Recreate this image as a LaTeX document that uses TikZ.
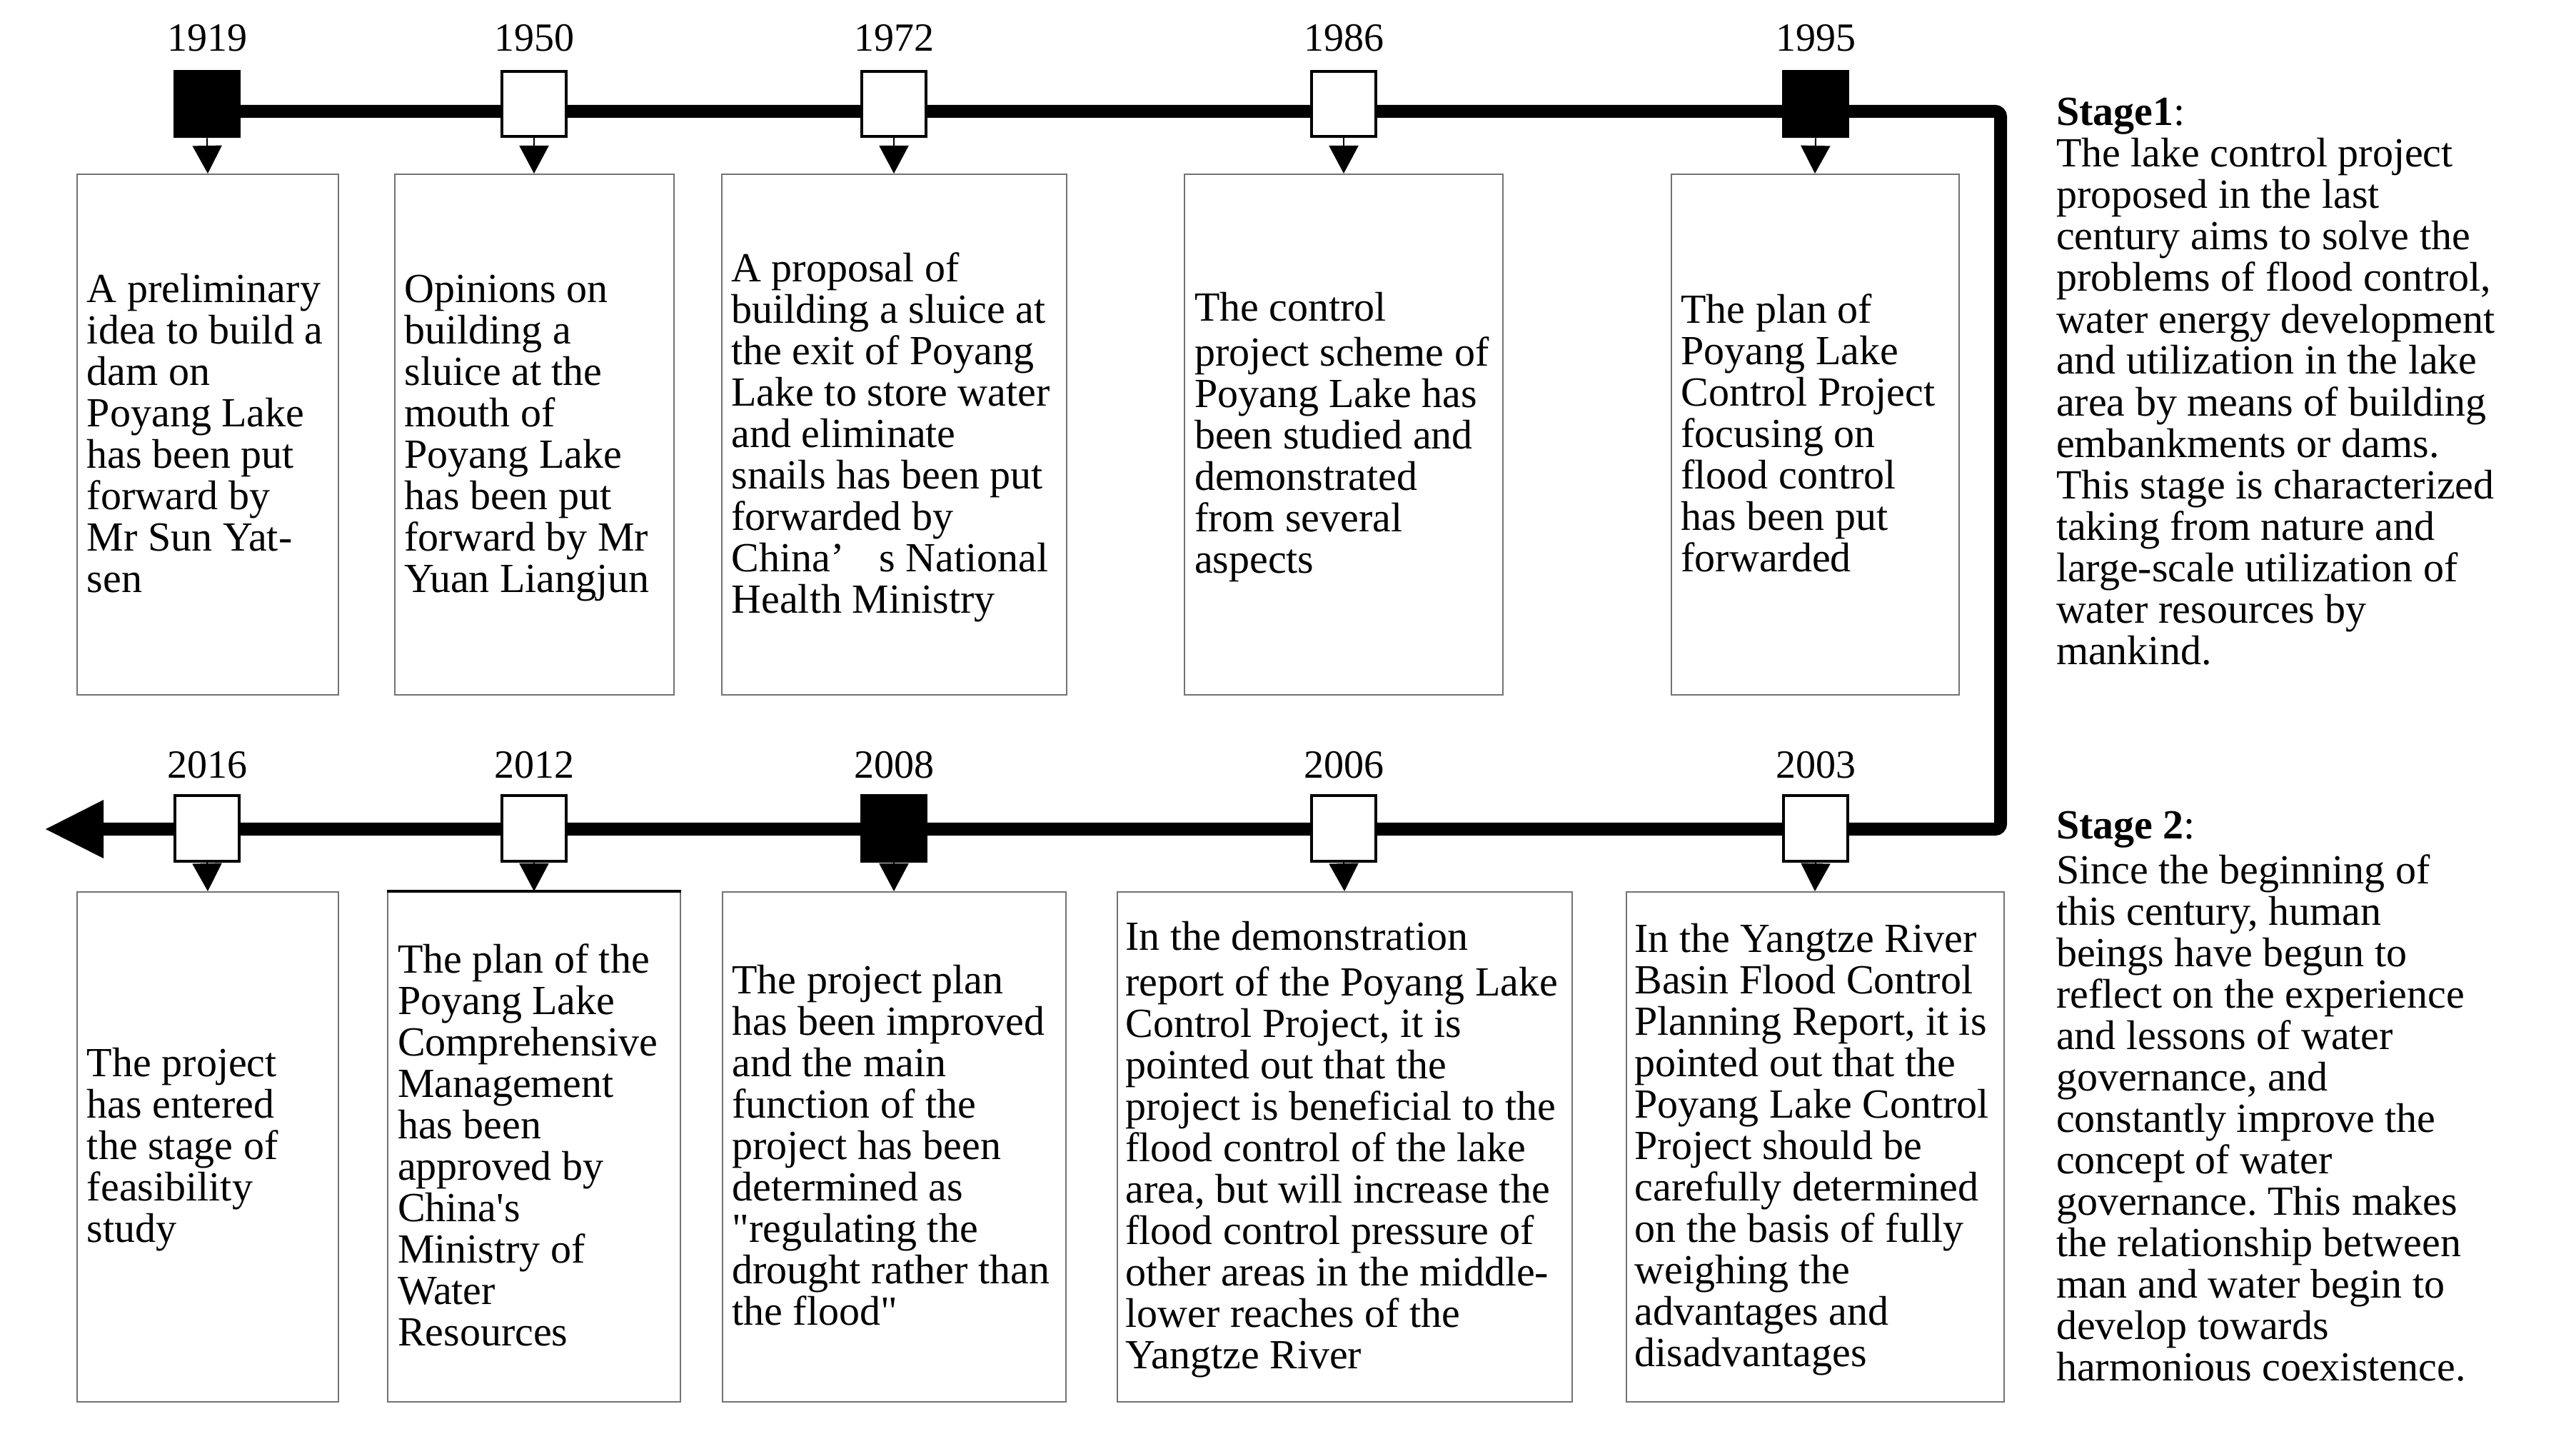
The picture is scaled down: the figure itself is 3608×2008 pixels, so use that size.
\documentclass[tikz,border=0pt]{standalone}
\usepackage{fontspec}
\setmainfont{Liberation Serif}
\usetikzlibrary{arrows.meta,backgrounds}
\frenchspacing
\tikzset{
  mk/.style={draw, line width=0.8pt, minimum width=18pt, minimum height=18.2pt, inner sep=0pt, fill=white},
  mkfull/.style={mk, fill=black},
  evbox/.style={draw=black!55, line width=0.4pt, inner sep=0pt, fill=none},
  topbox/.style={evbox, minimum height=145.8pt},
  botbox/.style={evbox, minimum height=142.8pt},
  etext/.style={inner sep=0pt, align=left, anchor=west, font=\fontsize{11.6}{11.6}\selectfont},
  year/.style={inner sep=0pt, anchor=base, font=\fontsize{11.2}{11.2}\selectfont},
  stage/.style={inner sep=0pt, align=left, anchor=north west, font=\fontsize{11.6}{11.6}\selectfont},
  sarrow/.style={line width=0.4pt, -{Triangle[width=8.2pt,length=7.8pt]}},
  tline/.style={line width=3.6pt, rounded corners=1.5pt}
}
\begin{document}
\frenchspacing
\begin{tikzpicture}[x=0.2pt, y=-0.2pt]
\useasboundingbox (0,0) rectangle (3608,2008);

% top markers
\node[mkfull] (m1) at (290,146) {};
\node[mk] (m2) at (748,146) {};
\node[mk] (m3) at (1252,146) {};
\node[mk] (m4) at (1882,146) {};
\node[mkfull] (m5) at (2543,146) {};
% bottom markers
\node[mk] (n1) at (290,1160) {};
\node[mk] (n2) at (748,1160) {};
\node[mkfull] (n3) at (1252,1160) {};
\node[mk] (n4) at (1882,1160) {};
\node[mk] (n5) at (2543,1160) {};

\coordinate (cTR) at (2802,156);
\coordinate (cBR) at (2802,1161);
\coordinate (abase) at (145,1161);
\coordinate (aend) at (64,1161);

\begin{scope}[on background layer]
\draw[tline] (m1.center |- cTR) -- (cTR) -- (cBR) -- (abase);
\fill (aend) -- (145,1120) -- (145,1202) -- cycle;
\end{scope}

% years
\node[year] (y1) at (290,72) {1919};
\node[year] (y2) at (748,72) {1950};
\node[year] (y3) at (1252,72) {1972};
\node[year] (y4) at (1882,72) {1986};
\node[year] (y5) at (2543,72) {1995};
\node[year] (z1) at (290,1090) {2016};
\node[year] (z2) at (748,1090) {2012};
\node[year] (z3) at (1252,1090) {2008};
\node[year] (z4) at (1882,1090) {2006};
\node[year] (z5) at (2543,1090) {2003};

% top boxes
\node[topbox, minimum width=73.2pt] (b1) at (291,608.5) {};
\node[topbox, minimum width=78.2pt] (b2) at (748,608.5) {};
\node[topbox, minimum width=96.6pt] (b3) at (1252,608.5) {};
\node[topbox, minimum width=89.2pt] (b4) at (1882,608.5) {};
\node[topbox, minimum width=80.6pt] (b5) at (2542,608.5) {};
% bottom boxes
\node[botbox, minimum width=73.2pt] (c1) at (291,1606) {};
\node[botbox, minimum width=82pt] (c2) at (748,1606) {};
\node[botbox, minimum width=96.2pt] (c3) at (1252,1606) {};
\node[botbox, minimum width=127.4pt] (c4) at (1883,1606) {};
\node[botbox, minimum width=105.8pt] (c5) at (2542,1606) {};
\draw[line width=0.8pt] (c2.north west) -- (c2.north east);

% arrows marker -> box
\foreach \a/\b in {m1/b1,m2/b2,m3/b3,m4/b4,m5/b5,n1/c1,n2/c2,n3/c3,n4/c4,n5/c5}
  \draw[sarrow] (\a.south) -- (\b.north);

% texts
\begin{scope}[every node/.append style={yshift=-1.2pt}]
\node[etext] (t1) at ([xshift=2.8pt]b1.west) {\strut A preliminary\\idea to build a\\dam on\\Poyang Lake\\has been put\\forward by\\Mr Sun Yat-\\sen\strut};
\node[etext] (t2) at ([xshift=2.8pt]b2.west) {\strut Opinions on\\building a\\sluice at the\\mouth of\\Poyang Lake\\has been put\\forward by Mr\\Yuan Liangjun\strut};
\node[etext] (t3) at ([xshift=2.8pt]b3.west) {\strut A proposal of\\building a sluice at\\the exit of Poyang\\Lake to store water\\and eliminate\\snails has been put\\forwarded by\\China’\hspace{0.85em}s National\\Health Ministry\strut};
\node[etext] (t4) at ([xshift=2.8pt]b4.west) {\strut The control\\project scheme of\\Poyang Lake has\\been studied and\\demonstrated\\from several\\aspects\strut};
\node[etext] (t5) at ([xshift=2.8pt]b5.west) {\strut The plan of\\Poyang Lake\\Control Project\\focusing on\\flood control\\has been put\\forwarded\strut};

\node[etext] (s1) at ([xshift=2.8pt]c1.west) {\strut The project\\has entered\\the stage of\\feasibility\\study\strut};
\node[etext] (s2) at ([xshift=2.8pt]c2.west) {\strut The plan of the\\Poyang Lake\\Comprehensive\\Management\\has been\\approved by\\China\textquotesingle s\\Ministry of\\Water\\Resources\strut};
\node[etext] (s3) at ([xshift=2.8pt]c3.west) {\strut The project plan\\has been improved\\and the main\\function of the\\project has been\\determined as\\\textquotedbl regulating the\\drought rather than\\the flood\textquotedbl\strut};
\node[etext] (s4) at ([xshift=2.4pt]c4.west) {\strut In the demonstration\\report of the Poyang Lake\\Control Project, it is\\pointed out that the\\project is beneficial to the\\flood control of the lake\\area, but will increase the\\flood control pressure of\\other areas in the middle-\\lower reaches of the\\Yangtze River\strut};
\node[etext] (s5) at ([xshift=2.4pt]c5.west) {\strut In the Yangtze River\\Basin Flood Control\\Planning Report, it is\\pointed out that the\\Poyang Lake Control\\Project should be\\carefully determined\\on the basis of fully\\weighing the\\advantages and\\disadvantages\strut};
\end{scope}

% stage texts
\node[stage] (st1) at (2879,134.4) {\strut\textbf{Stage1}:\\The lake control project\\proposed in the last\\century aims to solve the\\problems of flood control,\\water energy development\\and utilization in the lake\\area by means of building\\embankments or dams.\\This stage is characterized\\taking from nature and\\large-scale utilization of\\water resources by\\mankind.};
\node[stage] (st2) at (2879,1132.4) {\strut\textbf{Stage 2}:\\Since the beginning of\\this century, human\\beings have begun to\\reflect on the experience\\and lessons of water\\governance, and\\constantly improve the\\concept of water\\governance. This makes\\the relationship between\\man and water begin to\\develop towards\\harmonious coexistence.};
\end{tikzpicture}
\end{document}
